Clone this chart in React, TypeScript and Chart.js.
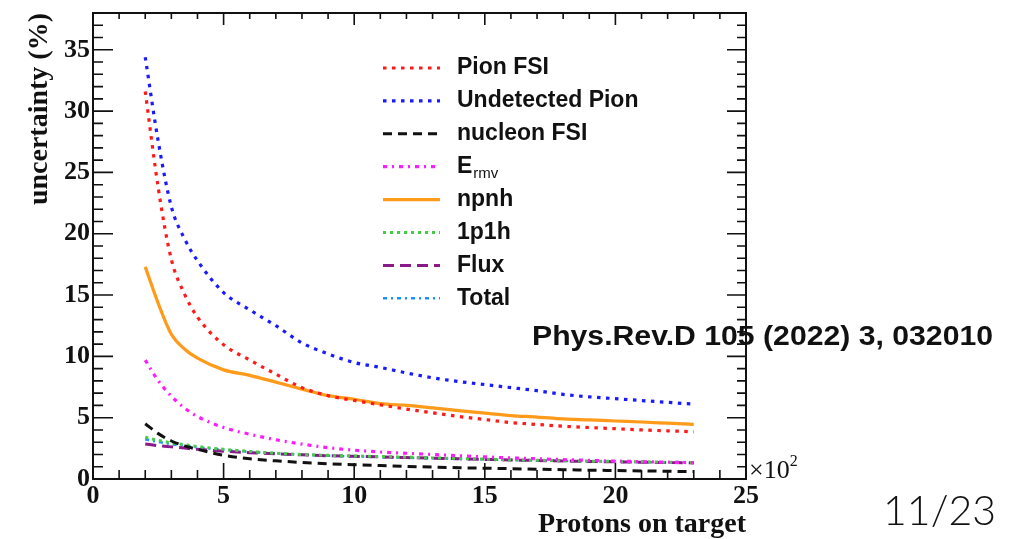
import React, { useEffect, useRef } from "react";
import { Chart, registerables } from "chart.js";
Chart.register(...registerables);

const X_VALUES = [2, 2.5, 3, 3.5, 4, 5, 6, 7, 8, 9, 10, 11, 12, 13, 14, 15, 16, 17, 18, 19, 20, 21, 22, 23];
const PION_FSI = [31.6, 23.7, 17.9, 15.1, 13.2, 10.95, 9.7, 8.55, 7.45, 6.8, 6.4, 6.05, 5.7, 5.4, 5.1, 4.85, 4.6, 4.45, 4.3, 4.2, 4.1, 4.0, 3.93, 3.85];
const UNDETECTED_PION = [34.4, 27.5, 22.2, 19.6, 17.8, 15.2, 13.8, 12.5, 11.1, 10.2, 9.5, 9.1, 8.65, 8.25, 7.95, 7.7, 7.45, 7.2, 6.9, 6.7, 6.55, 6.4, 6.25, 6.1];
const NUCLEON_FSI = [4.5, 3.7, 3.1, 2.7, 2.42, 1.93, 1.65, 1.48, 1.35, 1.24, 1.17, 1.1, 1.03, 0.97, 0.92, 0.88, 0.84, 0.8, 0.76, 0.72, 0.69, 0.66, 0.63, 0.6];
const E_RMV = [9.7, 8.0, 6.75, 5.8, 5.1, 4.2, 3.65, 3.2, 2.85, 2.55, 2.35, 2.2, 2.1, 2.0, 1.9, 1.8, 1.72, 1.65, 1.58, 1.52, 1.46, 1.41, 1.37, 1.33];
const NPNH = [17.3, 14.3, 11.8, 10.6, 9.85, 8.9, 8.45, 7.9, 7.33, 6.8, 6.5, 6.15, 6.0, 5.8, 5.58, 5.37, 5.17, 5.05, 4.9, 4.82, 4.73, 4.65, 4.55, 4.45];
const ONE_P_ONE_H = [3.4, 3.15, 2.95, 2.8, 2.65, 2.42, 2.25, 2.1, 2.0, 1.93, 1.88, 1.83, 1.78, 1.72, 1.67, 1.62, 1.57, 1.53, 1.49, 1.46, 1.43, 1.4, 1.37, 1.35];
const FLUX = [2.85, 2.72, 2.62, 2.52, 2.42, 2.27, 2.15, 2.05, 1.97, 1.9, 1.85, 1.8, 1.75, 1.7, 1.65, 1.6, 1.55, 1.51, 1.47, 1.43, 1.4, 1.37, 1.34, 1.31];
const TOTAL = [3.25, 3.02, 2.85, 2.7, 2.58, 2.38, 2.22, 2.08, 1.98, 1.9, 1.84, 1.79, 1.74, 1.69, 1.64, 1.6, 1.55, 1.51, 1.47, 1.44, 1.41, 1.38, 1.35, 1.33];

const X_TICKS = [0, 5, 10, 15, 20, 25];
const Y_TICKS = [0, 5, 10, 15, 20, 25, 30, 35];
const X_MIN = 0, X_MAX = 25, Y_MIN = 0, Y_MAX = 38;

const SERIES = [
  { label: "Pion FSI", data: PION_FSI, color: "#ff1a1a", dash: [3.5, 5.5], width: 3.2 },
  { label: "Undetected Pion", data: UNDETECTED_PION, color: "#1a1aff", dash: [3.5, 5.5], width: 3.2 },
  { label: "nucleon FSI", data: NUCLEON_FSI, color: "#111111", dash: [9, 6], width: 3 },
  { label: "E_rmv", data: E_RMV, color: "#ff1aff", dash: [4, 5, 2, 5], width: 3.2 },
  { label: "npnh", data: NPNH, color: "#ff9a1a", dash: [], width: 3.2 },
  { label: "1p1h", data: ONE_P_ONE_H, color: "#44cc44", dash: [3, 4], width: 3 },
  { label: "Flux", data: FLUX, color: "#8a1a8a", dash: [11, 6], width: 3 },
  { label: "Total", data: TOTAL, color: "#1a8fff", dash: [4, 4, 2, 4], width: 2.6 },
];

function stretchText(ctx: any, text: string, x: number, y: number, sx: number) {
  ctx.save();
  ctx.translate(x, y);
  ctx.scale(sx, 1);
  ctx.fillText(text, 0, 0);
  ctx.restore();
}

const framePlugin = {
  id: "rootFrame",
  afterDraw(chart: any) {
    const { ctx, chartArea: a, scales } = chart;
    const xs = scales.x, ys = scales.y;
    ctx.save();
    ctx.strokeStyle = "#111";
    ctx.lineWidth = 2;
    ctx.strokeRect(a.left, a.top, a.right - a.left, a.bottom - a.top);
    ctx.lineWidth = 1.6;
    ctx.beginPath();
    for (let v = X_MIN; v <= X_MAX; v++) {
      const px = xs.getPixelForValue(v);
      const major = v % 5 === 0;
      ctx.moveTo(px, a.bottom);
      ctx.lineTo(px, a.bottom - (major ? 16 : 9));
      ctx.moveTo(px, a.top);
      ctx.lineTo(px, a.top + (major ? 12 : 6));
    }
    for (let v = Y_MIN; v <= Y_MAX; v++) {
      const py = ys.getPixelForValue(v);
      const major = v % 5 === 0;
      ctx.moveTo(a.left, py);
      ctx.lineTo(a.left + (major ? 20 : 10), py);
      ctx.moveTo(a.right, py);
      ctx.lineTo(a.right - (major ? 19 : 9), py);
    }
    ctx.stroke();

    // legend
    const lx0 = 383, lx1 = 440, tx = 457, y0 = 68, dy = 32.9;
    chart.data.datasets.forEach((ds: any, i: number) => {
      const y = y0 + i * dy;
      ctx.save();
      ctx.strokeStyle = ds.borderColor;
      ctx.lineWidth = ds.borderWidth;
      ctx.setLineDash(ds.borderDash || []);
      ctx.beginPath();
      ctx.moveTo(lx0, y);
      ctx.lineTo(lx1, y);
      ctx.stroke();
      ctx.restore();
      ctx.fillStyle = "#111";
      ctx.textBaseline = "middle";
      ctx.textAlign = "left";
      ctx.font = "bold 23px 'Liberation Sans', Arial, sans-serif";
      if (ds.label === "E_rmv") {
        ctx.fillText("E", tx, y);
        const w = ctx.measureText("E").width;
        ctx.font = "15px 'Liberation Sans', Arial, sans-serif";
        ctx.fillText("rmv", tx + w + 1, y + 7);
      } else {
        ctx.fillText(ds.label, tx, y);
      }
    });

    // x10^2
    ctx.fillStyle = "#111";
    ctx.textAlign = "left";
    ctx.textBaseline = "alphabetic";
    ctx.font = "26px 'Liberation Serif', 'Times New Roman', serif";
    ctx.fillText("×10", 749, 478);
    const w10 = ctx.measureText("×10").width;
    ctx.font = "16px 'Liberation Serif', 'Times New Roman', serif";
    ctx.fillText("2", 749 + w10, 466);

    // reference
    ctx.font = "bold 27px 'Liberation Sans', Arial, sans-serif";
    ctx.textBaseline = "middle";
    const refText = "Phys.Rev.D 105 (2022) 3, 032010";
    const rw = ctx.measureText(refText).width;
    stretchText(ctx, refText, 532, 338, 461 / rw);

    ctx.font = "300 41px Lato, 'Noto Sans', sans-serif";
    ctx.textAlign = "right";
    ctx.fillText("11/23", 996, 512);
    ctx.restore();
  },
};

export default function App() {
  const ref = useRef<HTMLCanvasElement | null>(null);
  useEffect(() => {
    if (!ref.current) return;
    const chart = new Chart(ref.current, {
      type: "line",
      data: {
        datasets: SERIES.map((s) => ({
          label: s.label,
          data: X_VALUES.map((x, i) => ({ x, y: s.data[i] })),
          borderColor: s.color,
          backgroundColor: s.color,
          borderDash: s.dash,
          borderWidth: s.width,
          borderCapStyle: "butt" as const,
          pointRadius: 0,
          fill: false,
          cubicInterpolationMode: "monotone" as const,
        })),
      },
      options: {
        responsive: false,
        animation: false,
        layout: { padding: { left: 0, right: 272, top: 13, bottom: 0 } },
        plugins: { legend: { display: false }, tooltip: { enabled: false } },
        scales: {
          x: {
            type: "linear",
            min: X_MIN,
            max: X_MAX,
            grid: { display: false, drawTicks: false },
            border: { display: false },
            afterBuildTicks: (s: any) => { s.ticks = X_TICKS.map((v) => ({ value: v })); },
            afterFit: (s: any) => { s.height = 60; s.paddingLeft = 0; s.paddingRight = 0; },
            ticks: {
              color: "#111",
              padding: 2,
              maxRotation: 0,
              font: { family: "'Liberation Serif', 'Times New Roman', serif", size: 26, weight: "bold" },
            },
            title: {
              display: true,
              text: "Protons on target",
              align: "end",
              color: "#111",
              padding: { top: 0, bottom: 0 },
              font: { family: "'Liberation Serif', 'Times New Roman', serif", size: 28, weight: "bold", lineHeight: 1 },
            },
          },
          y: {
            type: "linear",
            min: Y_MIN,
            max: Y_MAX,
            grid: { display: false, drawTicks: false },
            border: { display: false },
            afterBuildTicks: (s: any) => { s.ticks = Y_TICKS.map((v) => ({ value: v })); },
            afterFit: (s: any) => { s.width = 93; s.paddingTop = 0; s.paddingBottom = 0; },
            ticks: {
              color: "#111",
              padding: 3,
              font: { family: "'Liberation Serif', 'Times New Roman', serif", size: 26, weight: "bold", lineHeight: 1 },
            },
            title: {
              display: true,
              text: "uncertainty (%)",
              align: "end",
              color: "#111",
              padding: { top: 26, bottom: 0 },
              font: { family: "'Liberation Serif', 'Times New Roman', serif", size: 28, weight: "bold", lineHeight: 1 },
            },
          },
        },
      },
      plugins: [framePlugin],
    } as any);
    return () => chart.destroy();
  }, []);
  return (
    <div style={{ position: "fixed", left: 0, top: 0, width: 1018, height: 539, background: "#fff" }}>
      <canvas ref={ref} width={1018} height={539} style={{ display: "block", width: 1018, height: 539 }} />
    </div>
  );
}
